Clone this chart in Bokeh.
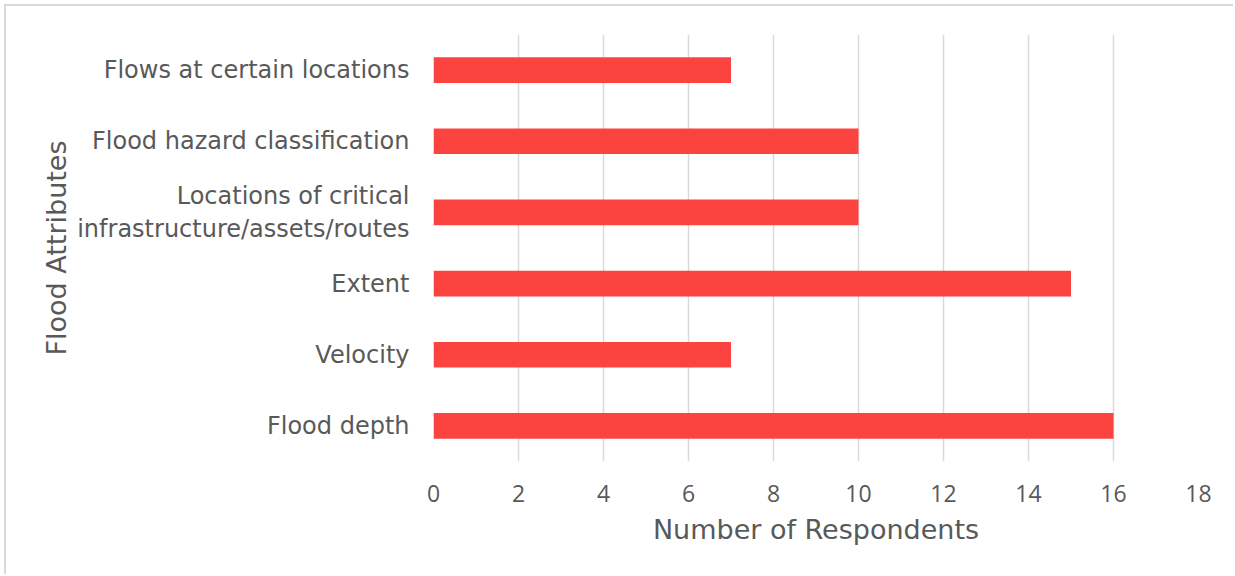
from bokeh.plotting import figure
from bokeh.models import FactorRange, Range1d, SingleIntervalTicker
from bokeh.embed import file_html
from bokeh.resources import INLINE

# Survey results: how many respondents asked for each flood attribute
attributes = [
    "Flood depth",
    "Velocity",
    "Extent",
    "Locations of critical\ninfrastructure/assets/routes",
    "Flood hazard classification",
    "Flows at certain locations",
]
respondents = [16, 7, 15, 10, 10, 7]

LABEL_FONT = "DejaVu Sans"
TICK_FONT = "Open Sans"
TEXT = "#595959"
GRID = "#D9D9D9"
BAR = "#FB4340"

p = figure(
    width=1229, height=570,
    y_range=FactorRange(factors=attributes, range_padding=0),
    x_range=Range1d(0, 18),
    output_backend="svg", toolbar_location=None,
    min_border_left=427, min_border_right=37,
    min_border_top=28, min_border_bottom=115,
    outline_line_color=None,
)
p.styles = {
    "margin-left": "4px", "margin-top": "4px",
    "border-left": "2px solid #D9D9D9", "border-top": "2px solid #D9D9D9",
}

p.hbar(y=attributes, right=respondents, left=0, height=0.36,
       fill_color=BAR, line_color=None)

# value axis
p.xaxis.ticker = SingleIntervalTicker(interval=2)
p.xaxis.axis_line_color = None
p.xaxis.major_tick_line_color = None
p.xaxis.minor_tick_line_color = None
p.xaxis.major_label_standoff = 17
p.xaxis.major_label_text_font = TICK_FONT
p.xaxis.major_label_text_font_size = "23px"
p.xaxis.major_label_text_color = TEXT
p.xaxis.axis_label = "Number of Respondents"
p.xaxis.axis_label_text_font = LABEL_FONT
p.xaxis.axis_label_text_font_size = "27px"
p.xaxis.axis_label_text_font_style = "normal"
p.xaxis.axis_label_text_color = TEXT
p.xaxis.axis_label_standoff = 9

# category axis
p.yaxis.axis_line_color = None
p.yaxis.major_tick_line_color = None
p.yaxis.minor_tick_line_color = None
p.yaxis.major_label_standoff = 18
p.yaxis.major_label_text_font = LABEL_FONT
p.yaxis.major_label_text_font_size = "24px"
p.yaxis.major_label_text_line_height = 1.15
p.yaxis.major_label_text_color = TEXT
p.yaxis.axis_label = "Flood Attributes"
p.yaxis.axis_label_text_font = LABEL_FONT
p.yaxis.axis_label_text_font_size = "27px"
p.yaxis.axis_label_text_font_style = "normal"
p.yaxis.axis_label_text_color = TEXT
p.yaxis.axis_label_standoff = 2

p.xgrid.grid_line_color = GRID
p.xgrid.grid_line_width = 1.5
p.ygrid.grid_line_color = None

open("out.html", "w").write(file_html(p, INLINE))
